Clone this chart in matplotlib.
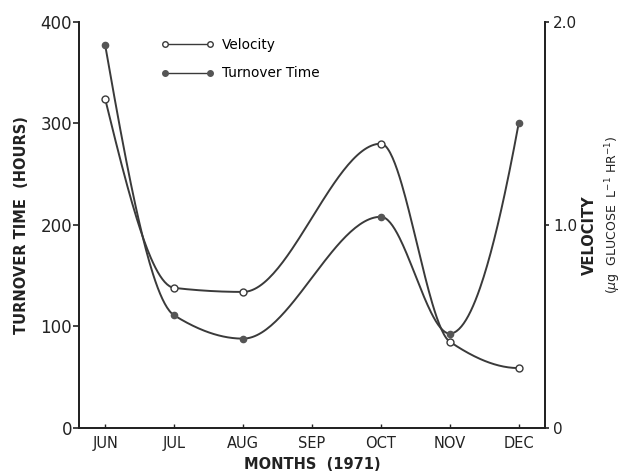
import numpy as np
import matplotlib
matplotlib.use('Agg')
import matplotlib.pyplot as plt

months = ['JUN', 'JUL', 'AUG', 'SEP', 'OCT', 'NOV', 'DEC']
sample_pos = [0, 1, 2, 4, 5, 6]          # no sample taken in SEP
velocity = [1.62, 0.69, 0.67, 1.40, 0.425, 0.295]   # ug glucose / L / hr
turnover = [377, 111, 88, 208, 93, 300]             # hours

line_col = '#3a3a3a'


def smooth(x, y, n=60):
    # monotone cubic Hermite (Fritsch-Carlson) through the samples
    x = np.asarray(x, float)
    y = np.asarray(y, float)
    h = np.diff(x)
    d = np.diff(y) / h
    m = np.zeros_like(y)
    for i in range(1, len(x) - 1):
        if d[i - 1] * d[i] > 0:
            w1 = 2 * h[i] + h[i - 1]
            w2 = h[i] + 2 * h[i - 1]
            m[i] = (w1 + w2) / (w1 / d[i - 1] + w2 / d[i])
    m[0] = ((2 * h[0] + h[1]) * d[0] - h[0] * d[1]) / (h[0] + h[1])
    m[-1] = ((2 * h[-1] + h[-2]) * d[-1] - h[-1] * d[-2]) / (h[-1] + h[-2])
    if np.sign(m[0]) != np.sign(d[0]):
        m[0] = 0
    if np.sign(m[-1]) != np.sign(d[-1]):
        m[-1] = 0
    xs, ys = [], []
    for i in range(len(x) - 1):
        t = np.linspace(0, 1, n)
        h00 = 2 * t**3 - 3 * t**2 + 1
        h10 = t**3 - 2 * t**2 + t
        h01 = -2 * t**3 + 3 * t**2
        h11 = t**3 - t**2
        xs.append(x[i] + t * h[i])
        ys.append(h00 * y[i] + h10 * h[i] * m[i] + h01 * y[i + 1] + h11 * h[i] * m[i + 1])
    return np.concatenate(xs), np.concatenate(ys)


fig = plt.figure(figsize=(6.27, 4.75), dpi=100)
ax = fig.add_axes([0.126, 0.099, 0.743, 0.855])
ax2 = ax.twinx()

# turnover time on the left axis
sx, sy = smooth(sample_pos, turnover)
ax.plot(sx, sy, color=line_col, lw=1.4, zorder=2)
ax.plot(sample_pos, turnover, 'o', color='#555555', ms=4.5, zorder=3)

# velocity on the right axis
vx, vy = smooth(sample_pos, velocity)
ax2.plot(vx, vy, color=line_col, lw=1.4, zorder=2)
ax2.plot(sample_pos, velocity, 'o', mfc='white', mec=line_col, mew=1.0, ms=5, zorder=3)

ax.set_xlim(-0.38, 6.38)
ax.set_ylim(0, 400)
ax2.set_ylim(0, 2.0)

ax.set_xticks(range(len(months)))
ax.set_xticklabels(months)
ax.set_yticks([0, 100, 200, 300, 400])
ax2.set_yticks([0, 1.0, 2.0])
ax2.set_yticklabels(['0', '1.0', '2.0'])

for a in (ax, ax2):
    a.spines['top'].set_visible(False)
    for s in a.spines.values():
        s.set_linewidth(1.3)
        s.set_color('#222222')

ax.tick_params(axis='y', direction='out', length=4, width=1.2, labelsize=12,
               colors='#222222', pad=1)
ax.tick_params(axis='x', direction='in', length=3, width=1.0, labelsize=10.5,
               colors='#222222', pad=6)
ax2.tick_params(axis='y', direction='out', length=3, width=1.2, labelsize=11,
                colors='#222222', pad=3)

ax.set_ylabel('TURNOVER TIME  (HOURS)', fontsize=10.5, fontweight='bold',
              color='#222222', labelpad=8)
ax.set_xlabel('MONTHS  (1971)', fontsize=10.5, fontweight='bold',
              color='#222222', labelpad=4)
fig.text(0.940, 0.505, 'VELOCITY', rotation=90, ha='center', va='center',
         fontsize=10.5, fontweight='bold', color='#222222')
fig.text(0.978, 0.547, r'($\mu$g  GLUCOSE  L$^{-1}$ HR$^{-1}$)', rotation=90,
         ha='center', va='center', fontsize=9, color='#222222')

# legend with a marker at each end of the sample line
h_vel, = ax.plot([], [], '-o', color=line_col, mfc='white', mec=line_col,
                 ms=4, lw=1.0)
h_turn, = ax.plot([], [], '-o', color=line_col, mfc='#555555', mec='#555555',
                  ms=4, lw=1.0)
ax.legend([h_vel, h_turn], ['Velocity', 'Turnover Time'], numpoints=2,
          loc='upper left', bbox_to_anchor=(0.15, 0.99), frameon=False,
          handlelength=3.9, fontsize=9.8, labelspacing=1.05, handletextpad=0.6)

fig.savefig('out.png', dpi=100)
